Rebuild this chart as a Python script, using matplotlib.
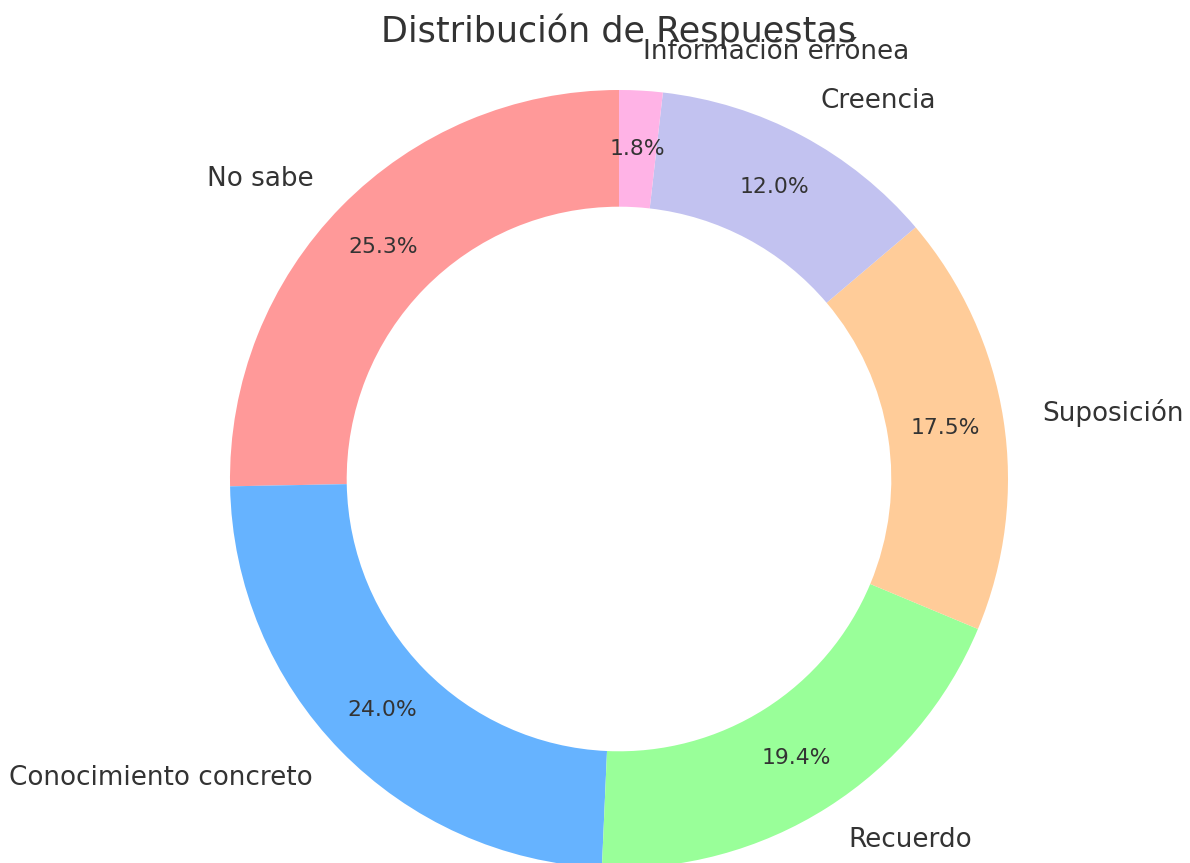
import matplotlib
matplotlib.use('Agg')
import matplotlib.pyplot as plt

categories = ['No sabe', 'Conocimiento concreto', 'Recuerdo', 'Suposición', 'Creencia', 'Información errónea']
percentages = [25.3, 24.0, 19.4, 17.5, 12.0, 1.8]
colors = ['#ff9999', '#66b3ff', '#99ff99', '#ffcc99', '#c2c2f0', '#ffb3e6']
title = 'Distribución de Respuestas'

text_color = '#333333'
dpi = 150
width_px, height_px = 1190, 863
# pie centre and radius in pixels, measured on the reference
cx, cy, r = 619, 863 - 479, 389

fig = plt.figure(figsize=(width_px / dpi, height_px / dpi), dpi=dpi)
ax = fig.add_axes([0, 0, 1, 1])
ax.pie(percentages, labels=categories, colors=colors, autopct='%1.1f%%',
       startangle=90, pctdistance=0.85, labeldistance=1.1,
       wedgeprops=dict(width=0.3),
       textprops=dict(color=text_color, fontsize=12.6))
for t in ax.texts:
    if t.get_text().endswith('%'):
        t.set_fontsize(10.5)

ax.set_xlim(-cx / r, (width_px - cx) / r)
ax.set_ylim(-cy / r, (height_px - cy) / r)
ax.set_aspect('auto')
ax.axis('off')

ax.text(0, (height_px - 31 - cy) / r, title, ha='center', va='center',
        fontsize=16.8, color=text_color)

fig.savefig('out.png', dpi=dpi)
